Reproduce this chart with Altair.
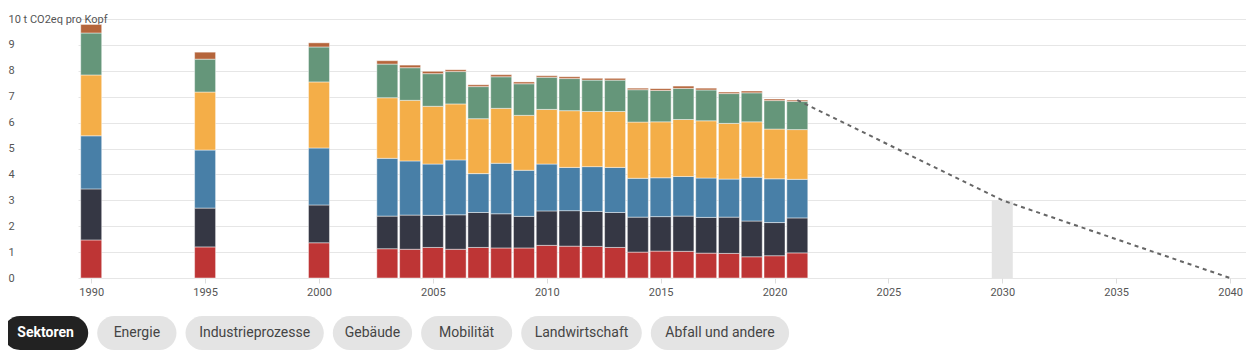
import altair as alt
import pandas as pd

# ---- data ----
years = [1990, 1995, 2000, 2003, 2004, 2005, 2006, 2007, 2008, 2009, 2010,
         2011, 2012, 2013, 2014, 2015, 2016, 2017, 2018, 2019, 2020, 2021]
energie = [1.47, 1.20, 1.36, 1.13, 1.11, 1.18, 1.11, 1.18, 1.16, 1.16, 1.26,
           1.23, 1.22, 1.18, 1.00, 1.04, 1.03, 0.96, 0.95, 0.82, 0.86, 0.97]
industrie = [1.97, 1.50, 1.46, 1.26, 1.32, 1.24, 1.33, 1.35, 1.32, 1.22, 1.33,
             1.37, 1.35, 1.35, 1.35, 1.33, 1.36, 1.38, 1.40, 1.38, 1.28, 1.35]
gebaeude = [2.05, 2.24, 2.20, 2.23, 2.09, 1.98, 2.12, 1.50, 1.95, 1.78, 1.81,
            1.67, 1.73, 1.74, 1.50, 1.50, 1.53, 1.52, 1.47, 1.69, 1.69, 1.49]
mobilitaet = [2.35, 2.24, 2.55, 2.34, 2.34, 2.23, 2.16, 2.12, 2.12, 2.12, 2.11,
              2.19, 2.13, 2.16, 2.17, 2.16, 2.20, 2.21, 2.15, 2.14, 1.92, 1.92]
landwirtschaft = [1.62, 1.27, 1.35, 1.30, 1.26, 1.26, 1.25, 1.24, 1.22, 1.22, 1.24,
                  1.24, 1.21, 1.21, 1.25, 1.21, 1.20, 1.19, 1.15, 1.12, 1.10, 1.09]
abfall = [0.33, 0.27, 0.16, 0.13, 0.10, 0.09, 0.07, 0.07, 0.08, 0.07, 0.06,
          0.07, 0.07, 0.07, 0.06, 0.07, 0.09, 0.07, 0.06, 0.07, 0.06, 0.05]

sectors = ["Energie", "Industrieprozesse", "Gebäude", "Mobilität", "Landwirtschaft", "Abfall und andere"]
sector_colors = ["#BE3535", "#353744", "#487FA7", "#F4AE48", "#65967A", "#B5653B"]

path_years = [2021, 2030, 2040]
path_values = [6.87, 3.0, 0.0]

target_year = [2030]
target_value = [3.0]

y_ticks = [0, 1, 2, 3, 4, 5, 6, 7, 8, 9, 10]
x_ticks = [1990, 1995, 2000, 2005, 2010, 2015, 2020, 2025, 2030, 2035, 2040]

buttons = ["Sektoren", "Energie", "Industrieprozesse", "Gebäude", "Mobilität",
           "Landwirtschaft", "Abfall und andere"]

# ---- tables ----
series = [energie, industrie, gebaeude, mobilitaet, landwirtschaft, abfall]
rows = []
for si, (name, vals) in enumerate(zip(sectors, series)):
    for y, v in zip(years, vals):
        rows.append({"Jahr": y, "Wert": v, "Sektor": name, "order": si})
bars_df = pd.DataFrame(rows)
path_df = pd.DataFrame({"Jahr": path_years, "Wert": path_values})
target_df = pd.DataFrame({"Jahr": target_year, "Wert": target_value})

# button layout (page pixels), computed from label lengths
bx = []
cur = 3.0
for i, b in enumerate(buttons):
    w = 38 + 5.9 * len(b)
    bx.append({"label": b, "x0": cur, "x1": cur + w, "xm": cur + w / 2,
               "active": 1 if i == 0 else 0})
    cur += w + 9
btn_df = pd.DataFrame(bx)

FONT = "Roboto"
BTN_FONT = "Roboto"

W, H = 1168, 259
xscale = alt.Scale(domain=[1989.42, 2040.7], nice=False, zero=False, padding=0)
yscale = alt.Scale(domain=[0, 10], nice=False)

xaxis = alt.Axis(values=x_ticks, format="d", grid=False,
                 domain=False, tickColor="#dddddd", tickSize=5, labelColor="#555555",
                 labelFont=FONT, labelFontSize=11, labelPadding=3, title=None,
                 labelOverlap=False)
yaxis = alt.Axis(values=y_ticks, tickCount=11, grid=True, gridColor="#e6e6e6",
                 domain=False, ticks=False, tickSize=0, labelAlign="left",
                 labelPadding=70, labelColor="#555555", labelFont=FONT,
                 labelFontSize=11, labelBaseline="middle", title=None,
                 labelOverlap=False, labelBound=False,
                 labelExpr="datum.value == 10 ? '10 t CO2eq pro Kopf' : datum.label")

target = alt.Chart(target_df).mark_bar(width=21, color="#e4e4e4").encode(
    x=alt.X("Jahr:Q", scale=xscale, axis=xaxis),
    y=alt.Y("Wert:Q", scale=yscale, axis=yaxis),
)

bars = alt.Chart(bars_df).mark_bar(width=21, stroke="white", strokeOpacity=0.45,
                                   strokeWidth=1).encode(
    x=alt.X("Jahr:Q", scale=xscale, axis=xaxis),
    y=alt.Y("Wert:Q", scale=yscale, stack="zero", axis=yaxis),
    color=alt.Color("Sektor:N", scale=alt.Scale(domain=sectors, range=sector_colors),
                    legend=None),
    order=alt.Order("order:Q", sort="ascending"),
)

line = alt.Chart(path_df).mark_line(color="#666666", strokeWidth=2,
                                    strokeDash=[4, 4]).encode(
    x=alt.X("Jahr:Q", scale=xscale, axis=xaxis),
    y=alt.Y("Wert:Q", scale=yscale, axis=yaxis),
)

main = alt.layer(target, bars, line)

pxscale = alt.Scale(domain=[78, 78 + W], nice=False, zero=False, padding=0)
pills = alt.Chart(btn_df).mark_rect(cornerRadius=17).encode(
    x=alt.X("x0:Q", scale=pxscale, axis=None),
    x2="x1:Q",
    y=alt.value(297),
    y2=alt.value(331),
    color=alt.condition("datum.active == 1", alt.value("#222222"), alt.value("#e4e4e4")),
)
ptext_active = alt.Chart(btn_df).transform_filter("datum.active == 1").mark_text(
    font=BTN_FONT, fontSize=14, baseline="middle", align="center",
    fontWeight="bold", color="#ffffff").encode(
    x=alt.X("xm:Q", scale=pxscale, axis=None),
    y=alt.value(314),
    text="label:N",
)
ptext = alt.Chart(btn_df).transform_filter("datum.active == 0").mark_text(
    font=BTN_FONT, fontSize=14, baseline="middle", align="center",
    color="#444444").encode(
    x=alt.X("xm:Q", scale=pxscale, axis=None),
    y=alt.value(314),
    text="label:N",
)
btns = alt.layer(pills, ptext_active, ptext)

chart = alt.layer(main, btns).resolve_scale(x="independent").properties(
    width=W, height=H,
    autosize=alt.AutoSizeParams(type="none"),
    padding={"left": 70, "top": 11, "right": 0, "bottom": 74},
).configure_view(stroke=None)

chart.save("out.html", embed_options={"renderer": "svg", "actions": False})
